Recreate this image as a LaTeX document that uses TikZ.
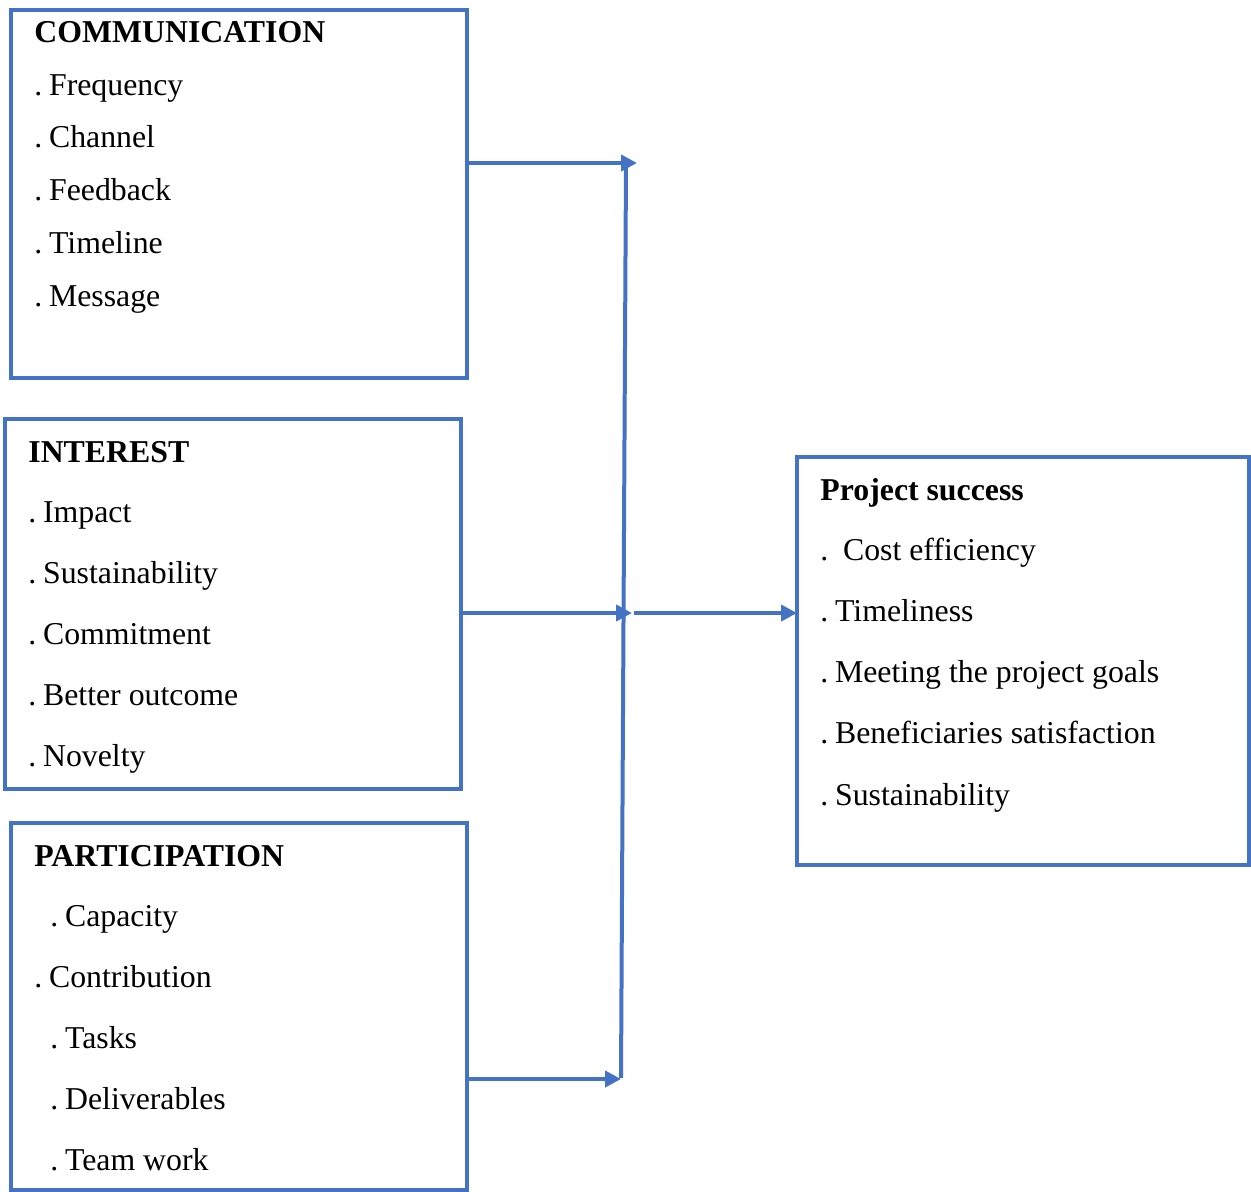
\documentclass[tikz,border=0pt]{standalone}
\usepackage{fontspec}
\setmainfont{Liberation Serif}
\usepackage{tikz}
\usetikzlibrary{arrows.meta}
\usetikzlibrary{positioning}
\usetikzlibrary{calc}
\definecolor{linkblue}{HTML}{4472C4}
\tikzset{basic box/.style={draw=linkblue,rectangle,inner sep=0pt,outer sep=0pt}}
\tikzset{box/.style={basic box,line width=1.9pt,anchor=north west}}
\tikzset{item/.style={anchor=base west,inner sep=0pt,
                      font=\fontsize{15.9}{18}\selectfont}}
\tikzset{head/.style={item,font=\fontsize{15.9}{18}\selectfont\bfseries}}
\tikzset{link/.style={draw=linkblue,
                      line width=2pt}}
\tikzset{arrow/.style={link,-{Triangle[length=8pt,width=8pt]}}}
\newcommand{\DOT}{.\kern-0.6pt\ }

\begin{document}
\begin{tikzpicture}
      [
      x=0.5pt,y=-0.5pt,
      ]
      \useasboundingbox (0,0) rectangle (1251,1191);

      % boxes
      \node [box,minimum width=228pt,minimum height=184pt] (comm) at (11,10) {};
      \node [box,minimum width=228pt,minimum height=185pt] (inter) at (5,419) {};
      \node [box,minimum width=228pt,minimum height=183.5pt] (part) at (11,823) {};
      \node [box,minimum width=226pt,minimum height=204pt] (succ) at (797,457) {};

      % headings
      \node [head] (commH) at (34,42) {COMMUNICATION};
      \node [head] (interH) at (28,462) {INTEREST};
      \node [head] (partH) at (34,866) {PARTICIPATION};
      \node [head] (succH) at (820,500) {Project success};

      % items
      \foreach \l [count=\i, evaluate=\i as \y using 95+(\i-1)*52.8] in
      {Frequency,Channel,Feedback,Timeline,Message}
      {
      \node [item] (comm\i) at (34,\y) {\DOT\l};
      }

      \foreach \l [count=\i, evaluate=\i as \y using 522+(\i-1)*61.2] in
      {Impact,Sustainability,Commitment,Better outcome,Novelty}
      {
      \node [item] (inter\i) at (28,\y) {\DOT\l};
      }

      \foreach \x/\l [count=\i, evaluate=\i as \y using 926+(\i-1)*61] in
      {50/Capacity,34/Contribution,50/Tasks,50/Deliverables,50/Team work}
      {
      \node [item] (part\i) at (\x,\y) {\DOT\l};
      }

      \foreach \l [count=\i, evaluate=\i as \y using 560+(\i-1)*61.25] in
      {{\ Cost efficiency},Timeliness,Meeting the project goals,
       Beneficiaries satisfaction,Sustainability}
      {
      \node [item] (succ\i) at (820,\y) {\DOT\l};
      }

      % connectors
      \coordinate (busTop) at (626,163);
      \coordinate (busBot) at (621,1078);
      \coordinate (tipC) at (637,163);
      \coordinate (tipI) at (632,613);
      \coordinate (tipP) at (621,1079);
      \coordinate (midS) at (634,613);

      \path [link] (busTop) -- (busBot);
      \draw [arrow] (comm.east |- tipC) -- (tipC);
      \draw [arrow] (inter.east |- tipI) -- (tipI);
      \draw [arrow] (part.east |- tipP) -- (tipP);
      \draw [arrow] (midS) -- (midS -| succ.west);

    \end{tikzpicture}
\end{document}
